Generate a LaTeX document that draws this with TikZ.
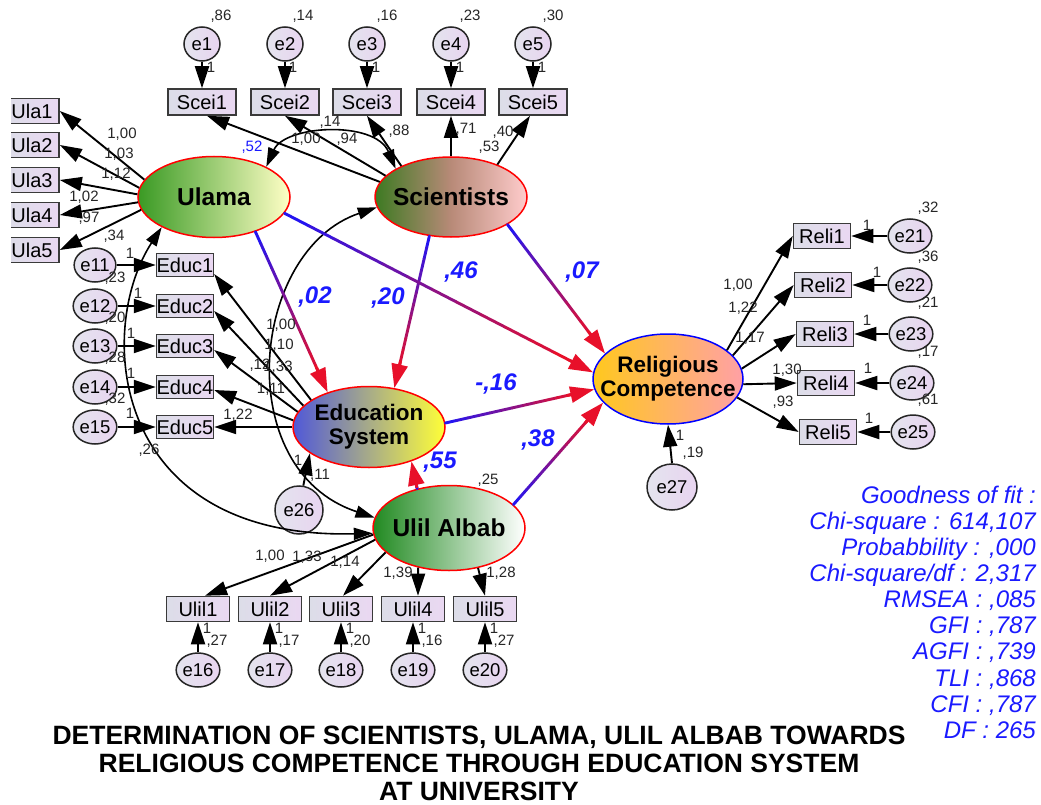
\documentclass[tikz,border=0pt]{standalone}
\usepackage{fontspec}
\setmainfont{Liberation Sans}
\usetikzlibrary{shapes.geometric,arrows.meta,calc}

\definecolor{boxL}{HTML}{DCDDE8}
\definecolor{boxR}{HTML}{EAD8F2}
\definecolor{boxD}{HTML}{3A3A3A}
\definecolor{errL}{HTML}{E4E4EE}
\definecolor{errR}{HTML}{E8D4F0}
\definecolor{pathB}{HTML}{2414F0}
\definecolor{pathR}{HTML}{E8102A}
\definecolor{lblue}{HTML}{1A1AFF}
\definecolor{ulamaL}{HTML}{3A9A24}
\definecolor{ulamaR}{HTML}{FFFFC6}
\definecolor{sciL}{HTML}{3D7A22}
\definecolor{sciM}{HTML}{B88A78}
\definecolor{sciR}{HTML}{FFCCCC}
\definecolor{eduL}{HTML}{5058D8}
\definecolor{eduR}{HTML}{FFFF38}
\definecolor{ulilL}{HTML}{218A21}
\definecolor{ulilR}{HTML}{FFFFFF}
\definecolor{relL}{HTML}{FFC81E}
\definecolor{relR}{HTML}{FFA0A6}

\newcommand{\gradarrow}[2]{%
  \coordinate (gpS) at (#1);
  \coordinate (gpE) at ($(#2)!16pt!(#1)$);
  \foreach \k in {0,...,11}{%
    \pgfmathsetmacro{\ka}{\k/12}%
    \pgfmathsetmacro{\kb}{(\k+1)/12}%
    \pgfmathtruncatemacro{\kc}{round(\k*100/11)}%
    \draw[gline, draw=pathR!\kc!pathB] ($(gpS)!\ka!(gpE)$) -- ($(gpS)!\kb!(gpE)$);
  }%
  \draw[gline, draw=pathR, line cap=butt, -{Triangle[length=24pt 0 1,width=16pt 0 1]}] ($(#2)!27pt!(#1)$) -- (#2);
}

\begin{document}
\begin{tikzpicture}[x=1pt,y=-1pt,
  lat/.style={ellipse, draw=red, line width=1.5pt, inner sep=0pt, align=center},
  obs/.style={rectangle, draw=boxD, line width=1.6pt, left color=boxL, right color=boxR, inner sep=0pt, font=\fontsize{20}{20}\selectfont},
  err/.style={ellipse, draw=black!85, line width=1.5pt, left color=errL, right color=errR, inner sep=0pt, minimum width=36pt, minimum height=34pt, font=\fontsize{18.5}{18.5}\selectfont},
  ar/.style={line width=1.9pt, -{Triangle[length=22pt 0 1,width=14pt 0 1]}},
  cov/.style={line width=1.6pt, {Triangle[length=19pt 0 1,width=12pt 0 1]}-{Triangle[length=19pt 0 1,width=12pt 0 1]}},
  gline/.style={line width=2.9pt, line cap=round},
  lbl/.style={inner sep=0pt, font=\fontsize{15}{15}\selectfont, text=black!85},
  plbl/.style={inner sep=0pt, font=\fontsize{24}{24}\selectfont\bfseries\itshape, text=lblue},
  gof/.style={inner sep=0pt, anchor=base east, font=\fontsize{24}{24}\selectfont\itshape, text=lblue},
  ttl/.style={inner sep=0pt, anchor=base, font=\fontsize{26.5}{26.5}\selectfont\bfseries}
]
\useasboundingbox (0,0) rectangle (1041,805);
\fill[white] (0,0) rectangle (1041,805);

% latent variables
\node[lat, minimum width=152pt, minimum height=81pt, left color=ulamaL, right color=ulamaR, font=\fontsize{24.5}{24.5}\selectfont\bfseries] (ulama) at (214,197) {Ulama};
\node[lat, inner xsep=-10pt, minimum width=152pt, minimum height=80pt, left color=sciL, right color=sciR, middle color=sciM, font=\fontsize{24.5}{24.5}\selectfont\bfseries] (sci) at (451,197) {Scientists};
\node[lat, inner xsep=-4pt, minimum width=152pt, minimum height=81pt, left color=eduL, right color=eduR, font=\fontsize{22.5}{24}\selectfont\bfseries] (edsys) at (369,427) {Education\\System};
\node[lat, inner xsep=-10pt, minimum width=152pt, minimum height=85pt, left color=ulilL, right color=ulilR, font=\fontsize{24.5}{24.5}\selectfont\bfseries] (ulil) at (449,528) {Ulil Albab};
\node[lat, draw=blue, inner xsep=-17pt, inner ysep=-4pt, minimum width=150pt, minimum height=90pt, left color=relL, right color=relR, font=\fontsize{22.5}{24}\selectfont\bfseries] (rel) at (668,379) {Religious\\Competence};

% Scientists indicators
\foreach \i/\x in {1/202,2/285,3/367,4/451,5/533}{
  \node[obs, minimum width=68pt, minimum height=26pt] (scei\i) at (\x,102) {Scei\i};
  \node[err] (e\i) at (\x,44) {e\i};
  \draw[ar] (e\i.south) -- (scei\i.north);
}
% Education indicators
\foreach \i/\y/\n in {1/265/11,2/306/12,3/346/13,4/387/14,5/427/15}{
  \node[obs, minimum width=55pt, minimum height=23pt] (educ\i) at (185,\y) {Educ\i};
  \node[err] (e\n) at (95,\y) {e\n};
  \draw[ar] (e\n.east) -- (educ\i.west);
}
% Ulil indicators
\foreach \i/\x/\n in {1/198/16,2/270/17,3/341/18,4/413/19,5/485/20}{
  \node[obs, minimum width=63pt, minimum height=25pt] (ulil\i) at (\x,609) {Ulil\i};
  \node[err] (e\n) at (\x,670) {e\n};
  \draw[ar] (e\n.north) -- (ulil\i.south);
}
% Religious indicators
\foreach \i/\x/\y/\n/\ex in {1/822/236/21/910,2/823/285/22/910,3/825/334/23/911,4/826/383/24/912,5/828/432/25/913}{
  \node[obs, minimum width=57pt, minimum height=25pt] (reli\i) at (\x,\y) {Reli\i};
  \node[err] (e\n) at (\ex,\y) {e\n};
  \draw[ar] (e\n.west) -- (reli\i.east);
}
% Ulama indicators (clipped at the left edge)
\begin{scope}
  \clip (11,0) rectangle (120,300);
  \foreach \i/\y in {1/111,2/145,3/180,4/215,5/250}{
    \node[obs, minimum width=54pt, minimum height=25pt] (ula\i) at (32,\y) {Ula\i};
  }
\end{scope}

% residuals of endogenous latents
\node[err, minimum width=48pt, minimum height=48pt] (e26) at (299,510) {e26};
\node[err, minimum width=50pt, minimum height=46pt] (e27) at (672,487) {e27};
\draw[ar] (e26.80) -- (edsys.204);
\draw[ar] (e27.north) -- (rel.south);

% loadings
\draw[ar] (ulama.166) -- (ula1.east);
\draw[ar] (ulama.173) -- (ula2.east);
\draw[ar] (ulama.178) -- (ula3.east);
\draw[ar] (ulama.184) -- (ula4.east);
\draw[ar] (ulama.190) -- (ula5.east);

\draw[ar] (sci.168) -- ([xshift=5pt]scei1.south);
\draw[ar] (sci.162) -- (scei2.south);
\draw[ar] (sci.148) -- (scei3.south);
\draw[ar] (sci.90) -- (scei4.south);
\draw[ar] (sci.35) -- ([xshift=-3pt]scei5.south);

\draw[ar] (edsys.155) -- ([yshift=-9pt]educ1.east);
\draw[ar] (edsys.162) -- ([yshift=-5pt]educ2.east);
\draw[ar] (edsys.168) -- ([yshift=-4pt]educ3.east);
\draw[ar] (edsys.175) -- ([yshift=-3pt]educ4.east);
\draw[ar] (edsys.180) -- (educ5.east);

\draw[ar] (ulil.185) -- ([xshift=7pt]ulil1.north);
\draw[ar] (ulil.189) -- (ulil2.north);
\draw[ar] (ulil.201) -- ([xshift=2pt]ulil3.north);
\draw[ar] (ulil.232) -- ([xshift=5pt]ulil4.north);
\draw[ar] (ulil.306) -- (ulil5.north);

\draw[ar] (rel.26) -- (reli1.west);
\draw[ar] (rel.20) -- (reli2.west);
\draw[ar] (rel.8) -- (reli3.west);
\draw[ar] (rel.-4) -- (reli4.west);
\draw[ar] (rel.-15) -- (reli5.west);

% covariances
\draw[cov] (ulama.30) .. controls (285,125) and (375,120) .. (sci.153);
\draw[cov] (ulama.210) .. controls (95,330) and (110,540) .. (ulil.184);
\draw[cov] (sci.188) .. controls (250,250) and (230,470) .. (ulil.172);

% structural paths
\gradarrow{ulama.-40}{edsys.140}
\gradarrow{sci.241}{edsys.57}
\gradarrow{ulama.-13}{rel.175}
\gradarrow{sci.-26}{rel.158}
\gradarrow{edsys.3}{rel.188}
\gradarrow{ulil.20}{rel.200}
\gradarrow{ulil.129}{edsys.-39}

% labels: top
\node[lbl] at (221,16) {,86};
\node[lbl] at (303,16) {,14};
\node[lbl] at (387,16) {,16};
\node[lbl] at (470,16) {,23};
\node[lbl] at (553,16) {,30};
\node[lbl] at (211,67) {1};
\node[lbl] at (293,67) {1};
\node[lbl] at (376,67) {1};
\node[lbl] at (460,67) {1};
\node[lbl] at (542,67) {1};
\node[lbl] at (306,139) {1,00};
\node[lbl] at (347,139) {,94};
\node[lbl] at (399,131) {,88};
\node[lbl] at (466,129) {,71};
\node[lbl] at (503,132) {,40};
\node[lbl] at (489,147) {,53};
\node[lbl] at (330,122) {,14};
\node[lbl, text=lblue] at (252,147) {,52};
% Ulama loadings
\node[lbl] at (122,134) {1,00};
\node[lbl] at (119,154) {1,03};
\node[lbl] at (116,174) {1,12};
\node[lbl] at (84,197) {1,02};
\node[lbl] at (89,218) {,97};
\node[lbl] at (114,236) {,34};
% Education errors
\node[lbl] at (130,253) {1};
\node[lbl] at (138,293) {1};
\node[lbl] at (131,333) {1};
\node[lbl] at (131,373) {1};
\node[lbl] at (130,413) {1};
\node[lbl] at (115,278) {,23};
\node[lbl] at (115,318) {,20};
\node[lbl] at (115,358) {,28};
\node[lbl] at (115,399) {,32};
\node[lbl] at (149,450) {,26};
% Education loadings
\node[lbl] at (281,325) {1,00};
\node[lbl] at (279,345) {1,10};
\node[lbl] at (260,365) {,12};
\node[lbl] at (278,367) {1,33};
\node[lbl] at (271,389) {1,11};
\node[lbl] at (238,415) {1,22};
\node[lbl] at (298,460) {1};
\node[lbl] at (320,475) {,11};
% structural coefficients
\node[plbl] at (315,297) {,02};
\node[plbl] at (388,298) {,20};
\node[plbl] at (461,272) {,46};
\node[plbl] at (582,272) {,07};
\node[plbl] at (496,384) {-,16};
\node[plbl] at (538,440) {,38};
\node[plbl] at (440,462) {,55};
\node[lbl] at (488,480) {,25};
% Ulil loadings
\node[lbl] at (270,556) {1,00};
\node[lbl] at (307,557) {1,33};
\node[lbl] at (345,562) {1,14};
\node[lbl] at (398,573) {1,39};
\node[lbl] at (501,573) {1,28};
\foreach \x/\v in {198/27,270/17,341/20,413/16,485/27}{
  \node[lbl] at (\x+9,628) {1};
  \node[lbl] at (\x+19,641) {,\v};
}
% Religious loadings
\node[lbl] at (738,285) {1,00};
\node[lbl] at (743,308) {1,22};
\node[lbl] at (750,338) {1,17};
\node[lbl] at (787,370) {1,30};
\node[lbl] at (783,402) {,93};
\node[lbl] at (867,225) {1};
\node[lbl] at (877,272) {1};
\node[lbl] at (867,320) {1};
\node[lbl] at (868,368) {1};
\node[lbl] at (869,418) {1};
\node[lbl] at (928,208) {,32};
\node[lbl] at (928,257) {,36};
\node[lbl] at (928,303) {,21};
\node[lbl] at (928,352) {,17};
\node[lbl] at (928,400) {,61};
\node[lbl] at (680,435) {1};
\node[lbl] at (693,453) {,19};

% goodness of fit
\node[gof] at (1036,503) {Goodness of fit :};
\node[gof] at (1036,529) {Chi-square : 614,107};
\node[gof] at (1036,555) {Probabbility : ,000};
\node[gof] at (1036,581) {Chi-square/df : 2,317};
\node[gof] at (1036,607) {RMSEA : ,085};
\node[gof] at (1036,633) {GFI : ,787};
\node[gof] at (1036,659) {AGFI : ,739};
\node[gof] at (1036,686) {TLI : ,868};
\node[gof] at (1036,712) {CFI : ,787};
\node[gof] at (1036,738) {DF : 265};

% title
\node[ttl] at (479,744) {DETERMINATION OF SCIENTISTS, ULAMA, ULIL ALBAB TOWARDS};
\node[ttl] at (479,772) {RELIGIOUS COMPETENCE THROUGH EDUCATION SYSTEM};
\node[ttl] at (479,800) {AT UNIVERSITY};
\end{tikzpicture}
\end{document}
